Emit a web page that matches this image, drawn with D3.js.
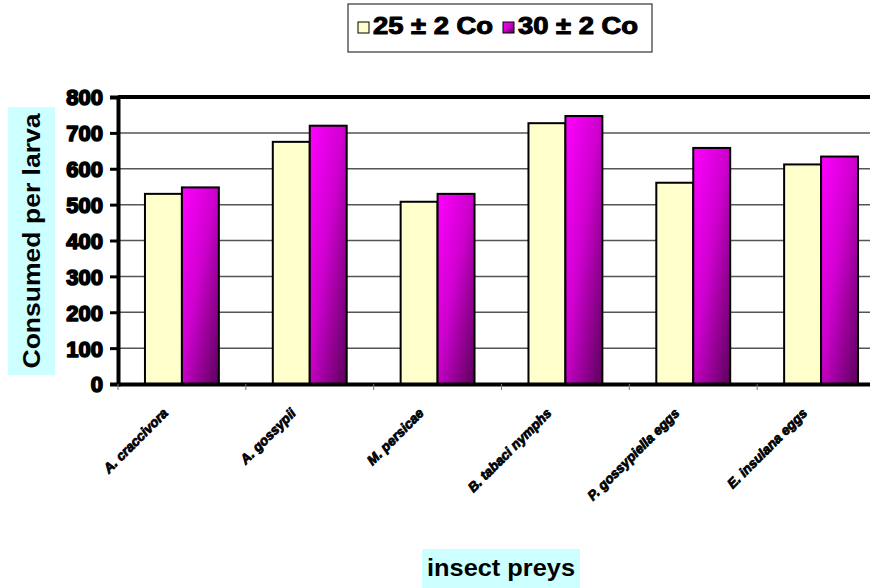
<!DOCTYPE html>
<html>
<head>
<meta charset="utf-8">
<script src="https://cdn.jsdelivr.net/npm/d3@7"></script>
<style>
  html, body { margin: 0; padding: 0; background: #fff; }
  svg { display: block; }
  text { font-family: "Liberation Sans", Arial, sans-serif; }
</style>
</head>
<body>
<svg id="chart" width="870" height="588"></svg>
<script>
// Prey items offered to the larvae
const categories = ["A. craccivora", "A. gossypii", "M. persicae", "B. tabaci   nymphs", "P. gossypiella eggs", "E. insulana eggs"];
// Rearing temperatures
const seriesNames = ["25 ± 2 Co", "30 ± 2 Co"];
// Mean number of prey consumed per larva
const values25 = [530, 675, 508, 727, 561, 612];
const values30 = [548, 720, 530, 747, 658, 634];
const yTicks = [0, 100, 200, 300, 400, 500, 600, 700, 800];

const rows = categories.map((c, i) => ({ cat: c, vals: [values25[i], values30[i]] }));

const svg = d3.select("#chart");
const W = 870, H = 588;
const plot = { left: 118, top: 97, bottom: 384, right: 885 };

// Fills
const defs = svg.append("defs");
const grad = defs.append("linearGradient")
  .attr("id", "magentaFill")
  .attr("x1", 0).attr("y1", 0).attr("x2", 1).attr("y2", 1);
grad.append("stop").attr("offset", 0).attr("stop-color", "#ff00ff");
grad.append("stop").attr("offset", 0.45).attr("stop-color", "#d000d0");
grad.append("stop").attr("offset", 1).attr("stop-color", "#5a005a");
const fills = ["#ffffcc", "url(#magentaFill)"];

// Scales
const x0 = d3.scaleBand().domain(categories).range([plot.left, plot.right]).paddingInner(0).paddingOuter(0);
const x1 = d3.scaleBand().domain([0, 1]).range([0, x0.bandwidth()]).paddingInner(0).paddingOuter(0.73);
const y = d3.scaleLinear().domain([0, 800]).range([plot.bottom, plot.top]);

// Horizontal gridlines
svg.append("g")
  .selectAll("line")
  .data(yTicks.filter(t => t > 0 && t < 800))
  .join("line")
  .attr("x1", plot.left).attr("x2", W)
  .attr("y1", d => y(d)).attr("y2", d => y(d))
  .attr("stroke", "#555").attr("stroke-width", 1.5);

// Top border of plot area
svg.append("line")
  .attr("x1", plot.left).attr("x2", W)
  .attr("y1", y(800)).attr("y2", y(800))
  .attr("stroke", "#000").attr("stroke-width", 4);

// Bars
const groups = svg.append("g")
  .selectAll("g")
  .data(rows)
  .join("g")
  .attr("transform", d => `translate(${x0(d.cat)},0)`);

groups.selectAll("rect")
  .data(d => d.vals.map((v, k) => ({ v, k })))
  .join("rect")
  .attr("x", d => x1(d.k))
  .attr("width", x1.bandwidth())
  .attr("y", d => y(d.v))
  .attr("height", d => y(0) - y(d.v))
  .attr("fill", d => fills[d.k])
  .attr("stroke", "#000")
  .attr("stroke-width", 2);

// Y axis
const yAxis = svg.append("g")
  .attr("transform", `translate(${plot.left},0)`)
  .call(d3.axisLeft(y).tickValues(yTicks).tickSize(8).tickPadding(7).tickFormat(d3.format("d")));
yAxis.select(".domain").attr("stroke", "#000").attr("stroke-width", 4);
yAxis.selectAll(".tick line").attr("stroke", "#000").attr("stroke-width", 3);
yAxis.selectAll(".tick text")
  .attr("font-size", 22)
  .attr("font-weight", 900)
  .attr("fill", "#000")
  .style("stroke", "#000")
  .style("stroke-width", "1.6px")
  .style("stroke-linejoin", "round")
  .attr("dy", "0.36em");

// X axis
const xAxis = svg.append("g")
  .attr("transform", `translate(0,${plot.bottom})`)
  .call(d3.axisBottom(x0).tickSize(0).tickFormat(""));
xAxis.select(".domain").attr("stroke", "#000").attr("stroke-width", 4);

// Small separators between category groups
svg.append("g")
  .selectAll("line")
  .data(categories)
  .join("line")
  .attr("x1", d => x0(d)).attr("x2", d => x0(d))
  .attr("y1", plot.bottom).attr("y2", plot.bottom + 6)
  .attr("stroke", "#777").attr("stroke-width", 1);

// Rotated category labels
svg.append("g")
  .selectAll("text")
  .data(categories)
  .join("text")
  .attr("transform", d => `translate(${x0(d) + x0.bandwidth() / 2 - 13},${plot.bottom + 30}) rotate(-45)`)
  .attr("text-anchor", "end")
  .attr("font-size", 13.5)
  .attr("font-weight", 700)
  .attr("font-style", "italic")
  .attr("fill", "#000")
  .style("stroke", "#000")
  .style("stroke-width", "0.8px")
  .text(d => d);

// Y axis title
const yTitle = svg.append("g").attr("transform", "translate(31,241) rotate(-90)");
yTitle.append("rect")
  .attr("x", -134).attr("y", -23).attr("width", 268).attr("height", 47)
  .attr("fill", "#ccffff");
yTitle.append("text")
  .attr("text-anchor", "middle")
  .attr("dy", "0.36em")
  .attr("font-size", 24)
  .attr("font-weight", 700)
  .attr("textLength", 255)
  .attr("lengthAdjust", "spacingAndGlyphs")
  .attr("fill", "#000")
  .text("Consumed per larva");

// X axis title
const xTitle = svg.append("g").attr("transform", "translate(501,569)");
xTitle.append("rect")
  .attr("x", -79).attr("y", -20).attr("width", 158).attr("height", 40)
  .attr("fill", "#ccffff");
xTitle.append("text")
  .attr("text-anchor", "middle")
  .attr("dy", "0.3em")
  .attr("font-size", 24)
  .attr("font-weight", 700)
  .attr("textLength", 148)
  .attr("lengthAdjust", "spacingAndGlyphs")
  .attr("fill", "#000")
  .text("insect preys");

// Legend
const legend = svg.append("g").attr("transform", "translate(348,4)");
legend.append("rect")
  .attr("x", 0).attr("y", 0).attr("width", 304).attr("height", 48)
  .attr("fill", "#fff").attr("stroke", "#333").attr("stroke-width", 1.2);
const legendX = [10, 155];
const items = legend.selectAll("g.item")
  .data(seriesNames)
  .join("g")
  .attr("class", "item")
  .attr("transform", (d, i) => `translate(${legendX[i]},0)`);
items.append("rect")
  .attr("x", 0).attr("y", 18).attr("width", 11).attr("height", 11)
  .attr("fill", (d, i) => fills[i])
  .attr("stroke", "#000").attr("stroke-width", 1);
items.append("text")
  .attr("x", 15).attr("y", 30)
  .attr("font-size", 23)
  .attr("font-weight", 900)
  .attr("textLength", 120)
  .attr("lengthAdjust", "spacingAndGlyphs")
  .attr("fill", "#000")
  .style("stroke", "#000")
  .style("stroke-width", "1px")
  .style("stroke-linejoin", "round")
  .text(d => d);
</script>
</body>
</html>
